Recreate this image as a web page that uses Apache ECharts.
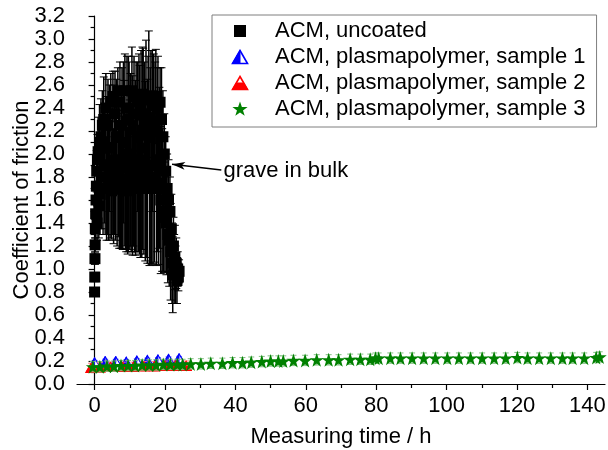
<!DOCTYPE html>
<html>
<head>
<meta charset="utf-8">
<title>Coefficient of friction vs. measuring time</title>
<script src="https://cdn.jsdelivr.net/npm/echarts@6/dist/echarts.min.js"></script>
<style>
  html, body { margin: 0; padding: 0; background: #fff; }
  #chart { width: 608px; height: 450px; }
</style>
</head>
<body>
<div id="chart"></div>
<script>
// ---- ACM, uncoated: time (h), coefficient of friction, standard deviation ----
var timeUncoated = [
  0, 0.05, 0.1, 0.15, 0.2, 0.3, 0.4, 0.5, 0.6, 0.7, 0.8, 1.0, 1.2, 1.4, 1.6, 1.8, 2.0, 2.2, 2.4, 2.6, 2.8,
  3.0, 3.2, 3.4, 3.6, 3.8, 4.0, 4.2, 4.4, 4.6, 4.8,
  5.0, 5.2, 5.4, 5.6, 5.8, 6.0, 6.2, 6.4, 6.6, 6.8,
  7.0, 7.2, 7.4, 7.6, 7.8, 8.0, 8.2, 8.4, 8.6, 8.8,
  9.0, 9.2, 9.4, 9.6, 9.8, 10.0, 10.2, 10.4, 10.6, 10.8,
  11.0, 11.2, 11.4, 11.6, 11.8, 12.0, 12.2, 12.4, 12.6, 12.8,
  13.0, 13.2, 13.4, 13.6, 13.8, 14.0, 14.2, 14.4, 14.6, 14.8,
  15.0, 15.2, 15.4, 15.6, 15.8, 16.0, 16.2, 16.4, 16.6, 16.8,
  17.0, 17.2, 17.4, 17.6, 17.8, 18.0, 18.2, 18.4, 18.6, 18.8,
  19.0, 19.2, 19.4, 19.6, 19.8, 20.0, 20.2, 20.4, 20.6, 20.8, 21.0, 21.2, 21.4,
  21.6, 21.8, 22.0, 22.2, 22.4, 22.6, 22.8, 23.0, 23.2, 23.4, 23.6, 23.8, 24.0
];
var cofUncoated = [
  0.80, 0.93, 1.09, 1.21, 1.35, 1.48, 1.60, 1.72, 1.85, 1.40, 1.95, 2.02, 1.55, 2.10, 1.65, 2.15, 1.80, 2.25, 1.70, 2.30, 1.90,
  1.80, 2.40, 1.70, 1.90, 2.25, 1.75, 2.05, 1.85, 2.45, 1.68,
  1.85, 2.50, 1.72, 1.95, 2.35, 1.80, 2.15, 1.70, 2.55, 1.90,
  1.78, 2.45, 1.70, 1.88, 2.25, 1.75, 2.10, 1.92, 2.55, 1.72,
  1.75, 2.40, 1.68, 2.00, 2.30, 1.82, 1.95, 1.70, 2.55, 1.90,
  1.85, 2.50, 1.72, 1.88, 2.35, 1.75, 2.15, 1.70, 2.45, 1.95,
  1.80, 2.40, 1.70, 2.05, 2.52, 1.78, 2.25, 1.85, 2.35, 1.72,
  1.85, 2.30, 2.47, 1.75, 1.90, 2.50, 1.70, 2.20, 1.80, 2.42,
  1.78, 2.28, 2.50, 1.75, 1.95, 2.40, 1.70, 1.88, 2.45, 1.60,
  2.30, 1.60, 2.15, 1.50, 2.00, 1.45, 1.85, 1.40, 1.70, 1.30, 1.60, 1.25, 1.50,
  1.15, 1.35, 1.05, 0.95, 1.20, 1.00, 1.10, 0.95, 1.05, 0.90, 1.00, 0.93, 0.98
];
var errUncoated = [
  0.03, 0.04, 0.05, 0.06, 0.08, 0.10, 0.12, 0.15, 0.18, 0.15, 0.22, 0.30, 0.28, 0.33, 0.30, 0.33, 0.45, 0.30, 0.40, 0.37, 0.50,
  0.50, 0.30, 0.45, 0.60, 0.40, 0.50, 0.55, 0.58, 0.25, 0.42,
  0.55, 0.22, 0.50, 0.65, 0.37, 0.55, 0.50, 0.50, 0.20, 0.62,
  0.60, 0.35, 0.52, 0.70, 0.50, 0.58, 0.70, 0.72, 0.32, 0.55,
  0.60, 0.45, 0.55, 0.85, 0.50, 0.65, 0.75, 0.55, 0.38, 0.78,
  0.65, 0.35, 0.57, 0.76, 0.45, 0.60, 0.65, 0.55, 0.42, 0.82,
  0.70, 0.50, 0.60, 0.88, 0.40, 0.65, 0.55, 0.78, 0.64, 0.62,
  0.80, 0.55, 0.60, 0.72, 0.85, 0.40, 0.66, 0.70, 0.75, 0.45,
  0.72, 0.52, 0.41, 0.72, 0.80, 0.45, 0.66, 0.70, 0.30, 0.64,
  0.45, 0.62, 0.40, 0.52, 0.35, 0.48, 0.30, 0.45, 0.30, 0.42, 0.35, 0.40, 0.30,
  0.42, 0.30, 0.35, 0.33, 0.25, 0.30, 0.28, 0.25, 0.22, 0.20, 0.15, 0.12, 0.10
];

// ---- ACM, plasmapolymer, sample 1 ----
var timeSample1 = [0, 3, 6, 9, 12, 15, 18, 21, 24];
var cofSample1  = [0.19, 0.20, 0.20, 0.195, 0.205, 0.21, 0.215, 0.22, 0.225];
var errSample1  = [0.015, 0.015, 0.015, 0.015, 0.015, 0.015, 0.015, 0.015, 0.015];

// ---- ACM, plasmapolymer, sample 2 ----
var timeSample2 = [-1, 1.5, 4.5, 8, 11, 14, 17, 20, 23, 26];
var cofSample2  = [0.14, 0.145, 0.15, 0.15, 0.15, 0.155, 0.155, 0.16, 0.16, 0.16];
var errSample2  = [0.04, 0.04, 0.04, 0.04, 0.04, 0.04, 0.04, 0.04, 0.04, 0.04];

// ---- ACM, plasmapolymer, sample 3 ----
var timeSample3 = [
  -0.5, 1.5, 3.5, 5.5, 7.5, 9.5, 11.5, 13.5, 15.5, 17.5, 19.5, 21.5, 23.5, 25,
  27.3, 30.2, 33, 36.3, 39.2, 42, 44.5, 47.5, 50, 52.2, 53.6, 56.5, 59.8, 63.1, 66.5, 69.3,
  72.6, 75.5, 78.3, 79.8, 80.7, 84, 86.9, 90.2, 93.5, 96.8, 100.2, 103.5, 106.8, 110.1,
  113.5, 116.8, 120.1, 123, 126.3, 129.6, 132.9, 135.8, 139.1, 142.5, 143.5
];
var cofSample3 = [
  0.15, 0.15, 0.155, 0.155, 0.16, 0.16, 0.16, 0.165, 0.165, 0.165, 0.17, 0.17, 0.17, 0.17,
  0.175, 0.175, 0.18, 0.18, 0.185, 0.185, 0.19, 0.195, 0.20, 0.20, 0.20, 0.205, 0.205, 0.21, 0.21, 0.21,
  0.215, 0.215, 0.215, 0.225, 0.225, 0.225, 0.225, 0.225, 0.225, 0.225, 0.225, 0.225, 0.225, 0.225,
  0.225, 0.225, 0.23, 0.225, 0.225, 0.225, 0.225, 0.225, 0.225, 0.23, 0.235
];
var errSample3 = timeSample3.map(function () { return 0.045; });

// ---- axis ticks ----
var xMajorTicks = [0, 20, 40, 60, 80, 100, 120, 140];
var xMinorTicks = [10, 30, 50, 70, 90, 110, 130];

var FONT = "'Liberation Sans', Arial, Helvetica, sans-serif";
var FS = 22;

function zip3(a, b, c) {
  return a.map(function (v, i) { return [v, b[i], c[i]]; });
}
function svgIcon(svg) {
  return 'image://data:image/svg+xml;charset=utf-8,' + encodeURIComponent(svg);
}

// marker shapes
var triBlue = svgIcon("<svg xmlns='http://www.w3.org/2000/svg' width='16' height='14' viewBox='0 0 16 14'>" +
  "<polygon points='8,1.5 15,13 1,13' fill='#fff' stroke='#0000ff' stroke-width='1.6'/>" +
  "<polygon points='8,1.5 8,13 1,13' fill='#0000ff' stroke='#0000ff' stroke-width='1'/></svg>");
var triRed = svgIcon("<svg xmlns='http://www.w3.org/2000/svg' width='16' height='14' viewBox='0 0 16 14'>" +
  "<polygon points='8,1.5 15,13 1,13' fill='#fff' stroke='#ff0000' stroke-width='1.6'/>" +
  "<polygon points='4.5,7.25 11.5,7.25 15,13 1,13' fill='#ff0000' stroke='#ff0000' stroke-width='1'/></svg>");
var starPath = 'path://M50,0 L61.8,35.1 L98.5,35.1 L68.8,56.8 L79.4,91.2 L50,70 L20.6,91.2 L31.2,56.8 L1.5,35.1 L38.2,35.1 Z';

// legend icons: a wide box with the marker near its left so the text sits further right
function legendBox(inner) {
  return svgIcon("<svg xmlns='http://www.w3.org/2000/svg' width='56' height='16' viewBox='0 0 56 16'>" + inner + "</svg>");
}
var legSquare = legendBox("<rect x='20' y='2' width='12' height='12' fill='#000'/>");
var legBlue = legendBox("<polygon points='26,1.5 33.5,14.5 18.5,14.5' fill='#fff' stroke='#0000ff' stroke-width='1.6'/>" +
  "<polygon points='26,1.5 26,14.5 18.5,14.5' fill='#0000ff' stroke='#0000ff' stroke-width='1'/>");
var legRed = legendBox("<polygon points='26,1.5 33.5,14.5 18.5,14.5' fill='#fff' stroke='#ff0000' stroke-width='1.6'/>" +
  "<polygon points='22.25,8 29.75,8 33.5,14.5 18.5,14.5' fill='#ff0000' stroke='#ff0000' stroke-width='1'/>");
var legStar = legendBox("<polygon points='26,0.5 27.9,6 33.6,6 29,9.4 30.7,14.8 26,11.5 21.3,14.8 23,9.4 18.4,6 24.1,6' fill='#008000'/>");

function errorBars(capHalf, color, width) {
  return function (params, api) {
    var x = api.value(0), y = api.value(1), e = api.value(2);
    var hi = api.coord([x, y + e]);
    var lo = api.coord([x, y - e]);
    var style = { stroke: color, lineWidth: width };
    return {
      type: 'group',
      children: [
        { type: 'line', shape: { x1: hi[0], y1: hi[1], x2: lo[0], y2: lo[1] }, style: style },
        { type: 'line', shape: { x1: hi[0] - capHalf, y1: hi[1], x2: hi[0] + capHalf, y2: hi[1] }, style: { stroke: color, lineWidth: 1 } },
        { type: 'line', shape: { x1: lo[0] - capHalf, y1: lo[1], x2: lo[0] + capHalf, y2: lo[1] }, style: { stroke: color, lineWidth: 1 } }
      ]
    };
  };
}

var names = [
  'ACM, uncoated',
  'ACM, plasmapolymer, sample 1',
  'ACM, plasmapolymer, sample 2',
  'ACM, plasmapolymer, sample 3'
];

var chart = echarts.init(document.getElementById('chart'), null, { renderer: 'canvas' });

chart.setOption({
  animation: false,
  backgroundColor: '#ffffff',
  textStyle: { fontFamily: FONT },
  grid: { left: 77, right: 3, top: 16, bottom: 66, containLabel: false, outerBoundsMode: 'none' },
  legend: {
    orient: 'vertical',
    left: 212,
    top: 15,
    padding: [5, 11, 7, 2],
    itemGap: 4,
    itemWidth: 56,
    itemHeight: 16,
    borderColor: '#7f7f7f',
    borderWidth: 1,
    backgroundColor: '#ffffff',
    selectedMode: false,
    textStyle: { fontFamily: FONT, fontSize: FS, color: '#000', lineHeight: 22 },
    data: [
      { name: names[0], icon: legSquare },
      { name: names[1], icon: legBlue },
      { name: names[2], icon: legRed },
      { name: names[3], icon: legStar }
    ]
  },
  xAxis: [
    {
      type: 'value',
      min: -5,
      max: 145,
      name: 'Measuring time / h',
      nameLocation: 'middle',
      nameGap: 42,
      nameMoveOverlap: false,
      nameTextStyle: { fontFamily: FONT, fontSize: FS, color: '#000' },
      axisLine: { show: true, lineStyle: { color: '#000', width: 1.2 } },
      axisTick: { show: true, inside: false, length: 6, customValues: xMajorTicks, lineStyle: { color: '#000', width: 1.2 } },
      axisLabel: { customValues: xMajorTicks, fontFamily: FONT, fontSize: FS, color: '#000', margin: 11 },
      splitLine: { show: false }
    },
    {
      type: 'value',
      min: -5,
      max: 145,
      position: 'bottom',
      axisLine: { show: false },
      axisTick: { show: true, inside: false, length: 4, customValues: xMinorTicks, lineStyle: { color: '#000', width: 1.2 } },
      axisLabel: { show: false, customValues: xMinorTicks },
      splitLine: { show: false }
    }
  ],
  yAxis: {
    type: 'value',
    min: 0,
    max: 3.2,
    interval: 0.2,
    name: 'Coefficient of friction',
    nameLocation: 'middle',
    nameGap: 44,
    nameMoveOverlap: false,
    nameTextStyle: { fontFamily: FONT, fontSize: FS, color: '#000' },
    axisLine: { show: true, lineStyle: { color: '#000', width: 1.2 } },
    axisTick: { show: true, inside: false, length: 6, lineStyle: { color: '#000', width: 1.2 } },
    minorTick: { show: true, splitNumber: 2, length: 4, lineStyle: { color: '#000', width: 1.2 } },
    axisLabel: {
      fontFamily: FONT, fontSize: FS, color: '#000', margin: 12,
      formatter: function (v) { return v.toFixed(1); }
    },
    splitLine: { show: false },
    minorSplitLine: { show: false }
  },
  series: [
    {
      name: 'uncoated error',
      type: 'custom',
      renderItem: errorBars(4, '#000', 1.5),
      encode: { x: 0, y: 1 },
      data: zip3(timeUncoated, cofUncoated, errUncoated),
      z: 2,
      silent: true
    },
    {
      name: names[0],
      type: 'scatter',
      symbol: 'rect',
      symbolSize: 11,
      itemStyle: { color: '#000', opacity: 1 },
      data: timeUncoated.map(function (t, i) { return [t, cofUncoated[i]]; }),
      z: 3
    },
    {
      name: 'sample 1 error',
      type: 'custom',
      renderItem: errorBars(3, '#6f6fff', 1),
      encode: { x: 0, y: 1 },
      data: zip3(timeSample1, cofSample1, errSample1),
      z: 4,
      silent: true
    },
    {
      name: names[1],
      type: 'scatter',
      symbol: triBlue,
      symbolSize: [12, 11],
      itemStyle: { color: '#0000ff', opacity: 1 },
      data: timeSample1.map(function (t, i) { return [t, cofSample1[i]]; }),
      z: 5
    },
    {
      name: 'sample 2 error',
      type: 'custom',
      renderItem: errorBars(3, '#ff8080', 1),
      encode: { x: 0, y: 1 },
      data: zip3(timeSample2, cofSample2, errSample2),
      z: 6,
      silent: true
    },
    {
      name: names[2],
      type: 'scatter',
      symbol: triRed,
      symbolSize: [12, 11],
      itemStyle: { color: '#ff0000', opacity: 1 },
      data: timeSample2.map(function (t, i) { return [t, cofSample2[i]]; }),
      z: 7
    },
    {
      name: 'sample 3 error',
      type: 'custom',
      renderItem: errorBars(3, '#80c080', 1),
      encode: { x: 0, y: 1 },
      data: zip3(timeSample3, cofSample3, errSample3),
      z: 8,
      silent: true
    },
    {
      name: names[3],
      type: 'scatter',
      symbol: starPath,
      symbolSize: 14,
      itemStyle: { color: '#008000', opacity: 1 },
      data: timeSample3.map(function (t, i) { return [t, cofSample3[i]]; }),
      z: 9
    },
    {
      // annotation: label plus arrow pointing at the worn region
      name: 'annotation',
      type: 'scatter',
      symbolSize: 0,
      silent: true,
      data: [[36.6, 1.855]],
      label: {
        show: true,
        position: 'right',
        distance: 0,
        formatter: 'grave in bulk',
        fontFamily: FONT,
        fontSize: FS,
        color: '#000',
        opacity: 1,
        textBorderWidth: 0
      },
      markLine: {
        silent: true,
        animation: false,
        symbol: ['none', 'arrow'],
        symbolSize: [6, 13],
        label: { show: false },
        lineStyle: { color: '#000', width: 1.5, type: 'solid' },
        data: [[{ coord: [36, 1.86] }, { coord: [22, 1.91] }]]
      },
      z: 10
    }
  ]
});
</script>
</body>
</html>
